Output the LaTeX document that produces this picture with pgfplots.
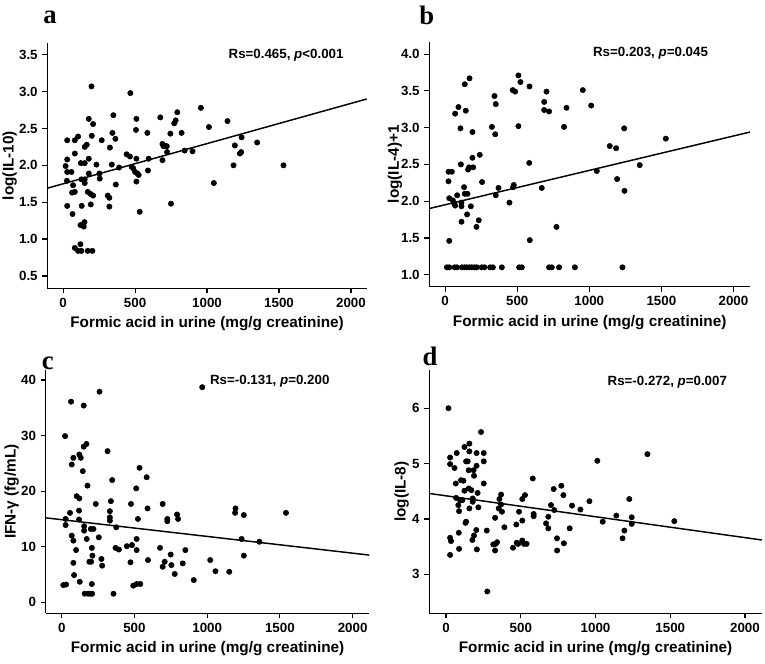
\documentclass[border=0pt]{standalone}
\usepackage{fontspec}
\setmainfont{Liberation Sans}
\newfontfamily\lettfont{Liberation Serif}
\usepackage{pgfplots}
\pgfplotsset{compat=1.18}

\pgfplotsset{
  panel/.style={
    scale only axis,
    axis x line*=bottom, axis y line*=left,
    axis line style={line width=1.1pt, -},
    xmin=-110, xmax=2110,
    xtick={0,500,1000,1500,2000},
    tick align=outside,
    major tick length=3.75pt,
    tick style={line width=0.9pt, black},
    tick label style={font=\fontsize{10}{12}\selectfont\bfseries},
    label style={font=\fontsize{11.5}{13}\selectfont\bfseries},
    /pgf/number format/assume math mode=true,
    /pgf/number format/1000 sep={},
    scaled ticks=false,
    xlabel={Formic acid in urine (mg/g creatinine)},
    clip=false,
  },
  ylab/.style={ylabel style={at={(axis description cs:#1,0.5)}, anchor=center}},
  onedec/.style={yticklabel style={/pgf/number format/.cd, fixed, fixed zerofill, precision=1}},
  dots/.style={only marks, mark=*, mark size=2pt, black},
  fitline/.style={black, line width=1.1pt},
}
\newcommand{\annfont}{\fontsize{10}{12}\selectfont\bfseries}
\newcommand{\letfont}{\lettfont\bfseries\fontsize{20}{20}\selectfont}

\begin{document}
\begin{tikzpicture}
\path[use as bounding box] (0,0) rectangle (573.75pt,-498pt);

% ---- a ----
\begin{axis}[panel, onedec, ylab=-0.118, at={(35.5pt,-216.2pt)}, anchor=south west,
  width=239.6pt, height=184pt, ymin=0.333, ymax=3.66,
  ytick={0.5,1,1.5,2,2.5,3,3.5}, ylabel={log(IL-10)}]
\addplot[dots] table {
x y
17 1.99
28 2.34
28 2.08
28 1.91
58 1.91
26 1.79
28 1.45
65 1.34
69 1.73
62 1.63
81 1.64
81 2.16
81 2.34
104 2.39
127 1.81
123 2.03
129 1.45
120 1.19
139 1.20
148 1.23
143 1.17
81 0.88
104 0.84
120 0.93
127 0.84
171 0.84
203 0.84
150 2.03
150 2.25
164 2.28
150 1.81
150 1.76
178 2.63
178 2.09
178 1.89
171 1.64
192 1.61
208 1.59
192 1.47
197 3.07
199 2.40
208 2.56
231 2.01
252 1.89
254 1.82
268 2.34
310 1.59
321 1.56
321 1.44
325 2.24
338 2.01
342 2.44
349 2.68
363 2.36
366 1.74
389 1.97
467 2.98
441 2.15
464 2.12
476 1.98
487 1.96
509 2.63
506 2.48
509 2.09
500 1.91
516 1.89
509 1.78
532 1.37
525 1.87
585 2.44
594 2.09
589 1.93
675 2.65
690 2.07
690 2.29
697 2.26
708 2.26
720 2.26
722 2.18
745 2.43
749 1.48
772 2.57
782 2.61
793 2.72
823 2.44
844 2.20
899 2.19
957 2.78
1013 2.52
1047 1.76
1142 2.60
1184 2.00
1193 2.27
1228 2.16
1237 2.18
1240 2.38
1348 2.31
1531 2.00
};
\addplot[fitline] coordinates {(-110,1.69) (2110,2.90)};
\node[anchor=east, font=\annfont] at (axis cs:1981,3.5) {Rs=0.465, \textit{p}<0.001};
\end{axis}

% ---- b ----
\begin{axis}[panel, onedec, ylab=-0.107, at={(322pt,-215pt)}, anchor=south west,
  width=240.5pt, height=183.8pt, ymin=0.837, ymax=4.17, xmax=2115,
  ytick={1,1.5,2,2.5,3,3.5,4}, ylabel={log(IL-4)+1}]
\addplot[dots] table {
x y
23 2.40
46 2.40
23 2.27
28 2.04
53 2.01
62 1.97
69 1.94
83 2.08
28 1.46
69 3.19
92 3.28
143 3.23
106 2.99
109 2.50
113 1.98
113 1.93
113 1.72
131 2.19
136 3.59
169 3.67
136 2.10
155 2.10
152 1.82
159 2.43
166 2.46
189 2.94
194 2.46
189 2.59
178 1.93
217 1.65
233 1.74
240 2.63
256 2.26
324 3.01
342 3.43
351 3.32
347 2.91
351 2.08
370 2.18
446 1.98
469 3.51
485 3.49
471 2.19
476 2.22
508 3.71
522 3.62
508 3.02
583 2.52
585 3.56
587 1.47
670 2.18
687 3.35
703 3.49
687 3.24
721 3.22
772 1.65
825 3.01
842 3.27
955 3.51
1013 3.30
1052 2.41
1142 2.75
1186 2.72
1193 2.30
1242 2.99
1244 2.14
1350 2.49
1531 2.85
12 1.10
28 1.10
65 1.10
81 1.10
116 1.10
134 1.10
150 1.10
169 1.10
185 1.10
203 1.10
219 1.10
254 1.10
272 1.10
312 1.10
331 1.10
393 1.10
513 1.10
532 1.10
721 1.10
740 1.10
790 1.10
900 1.10
1230 1.10
};
\addplot[fitline] coordinates {(-109,1.90) (2115,2.94)};
\node[anchor=east, font=\annfont] at (axis cs:1856,4.01) {Rs=0.203, \textit{p}=0.045};
\end{axis}

% ---- c ----
\begin{axis}[panel, ylab=-0.105, at={(34.3pt,-460pt)}, anchor=south west,
  width=242.7pt, height=182.5pt, ymin=-1.98, ymax=41.8, xmax=2115,
  ytick={0,10,20,30,40}, ylabel={IFN-γ (fg/mL)}]
\addplot[dots] table {
x y
11 3.1
30 3.2
23 29.9
27 15.0
27 13.9
57 16.1
64 36.1
69 24.8
80 26.0
69 12.0
80 11.1
99 9.4
80 7.1
85 4.9
103 19.1
121 18.7
119 16.5
119 14.9
121 26.6
131 26.0
124 3.7
145 23.6
151 28.0
170 28.5
151 35.4
154 13.7
154 12.9
177 21.0
172 11.4
190 7.3
202 7.3
200 13.2
218 13.2
207 9.8
211 8.4
158 1.55
181 1.55
197 1.55
209 1.55
207 3.3
234 17.7
255 11.7
260 37.9
273 7.8
278 6.6
315 27.2
331 16.4
331 15.3
331 14.7
338 18.2
347 22.0
356 1.55
370 9.8
393 9.5
375 13.5
448 10.1
966 38.7
535 24.2
584 22.5
512 20.5
476 17.7
694 17.7
590 16.9
524 15.0
726 15.0
726 14.6
793 15.8
800 15.0
1195 16.9
1192 16.1
1252 15.7
1542 16.1
1237 11.4
1359 10.9
1252 8.4
515 11.4
483 10.3
515 9.4
473 7.2
676 9.8
749 8.6
850 9.4
593 7.6
708 7.3
694 6.4
754 6.7
832 7.0
777 5.1
908 4.0
1021 7.6
1057 5.6
1152 5.5
492 3.0
515 3.3
540 3.3
};
\addplot[fitline] coordinates {(-110,15.2) (2115,8.5)};
\node[anchor=east, font=\annfont] at (axis cs:1873,39.8) {Rs=-0.131, \textit{p}=0.200};
\end{axis}

% ---- d ----
\begin{axis}[panel, ylab=-0.083, at={(322pt,-460pt)}, anchor=south west,
  width=249.3pt, height=182.5pt, ymin=2.295, ymax=6.69, xmin=-112, xmax=2112,
  ytick={3,4,5,6}, ylabel={log(IL-8)}]
\addplot[dots] table {
x y
16 6.00
234 5.57
27 5.11
27 4.99
71 5.19
57 4.92
123 5.30
156 5.36
134 5.04
145 5.04
156 5.22
204 5.19
252 5.19
252 5.04
204 4.96
184 4.88
151 4.88
187 4.78
65 4.64
252 4.64
100 4.70
116 4.69
151 4.55
169 4.52
123 4.51
67 4.38
94 4.34
178 4.37
178 4.31
211 4.47
82 4.25
87 4.14
109 4.34
156 4.19
216 4.21
272 3.79
134 3.95
130 3.93
85 3.75
27 3.66
33 3.60
27 3.35
87 3.46
176 3.62
187 3.70
202 3.80
206 3.45
316 3.54
332 3.55
341 3.58
328 3.43
276 2.69
328 4.02
352 4.19
368 4.26
357 4.36
368 4.44
374 4.13
390 3.85
448 3.48
473 3.57
482 3.55
470 3.90
488 4.13
510 4.36
528 4.43
510 3.97
510 3.61
521 3.55
539 3.55
580 4.73
586 4.09
586 4.05
669 3.92
684 3.83
684 4.04
702 4.25
720 4.54
724 4.16
742 3.65
743 3.43
771 4.60
785 4.43
788 3.56
827 3.83
843 4.24
899 4.17
959 4.32
1012 5.05
1048 3.95
1139 4.06
1181 3.65
1193 3.79
1226 4.36
1242 4.03
1242 3.91
1347 5.17
1527 3.96
};
\addplot[fitline] coordinates {(-112,4.46) (2112,3.62)};
\node[anchor=east, font=\annfont] at (axis cs:1911,6.47) {Rs=-0.272, \textit{p}=0.007};
\end{axis}

\node[font=\letfont] at (37.5pt,-12.75pt) {a};
\node[font=\letfont] at (320pt,-11.25pt) {b};
\node[font=\letfont] at (35.8pt,-272.5pt) {c};
\node[font=\letfont] at (322.5pt,-267.5pt) {d};
\end{tikzpicture}
\end{document}
